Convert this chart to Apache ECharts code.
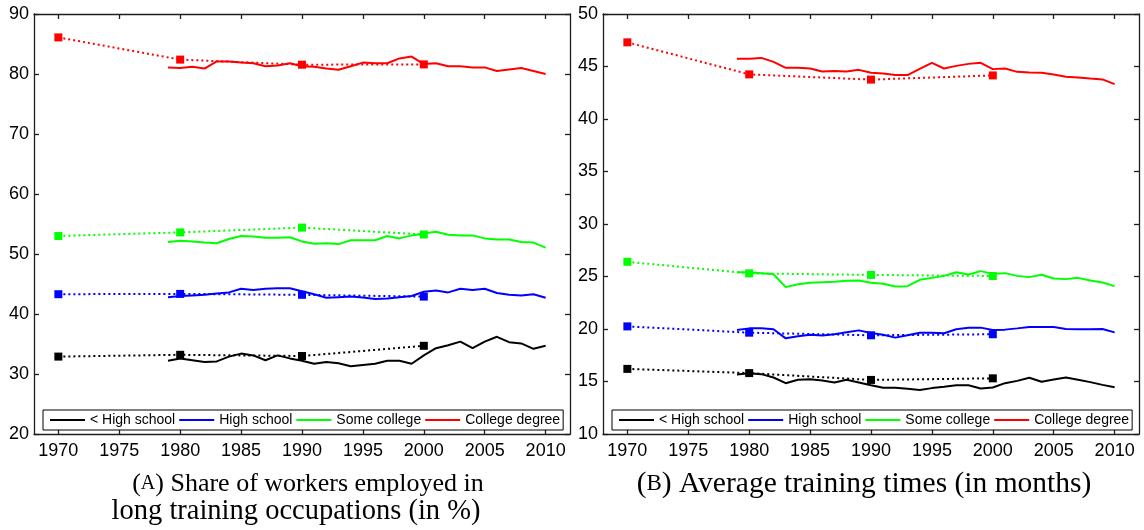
<!DOCTYPE html>
<html>
<head>
<meta charset="utf-8">
<script src="https://cdn.jsdelivr.net/npm/echarts@6/dist/echarts.min.js"></script>
<style>
html,body{margin:0;padding:0;background:#fff;}
#chart{width:1144px;height:530px;}
</style>
</head>
<body>
<div id="chart"></div>
<script>
// ---------- data ----------
const years = [1979,1980,1981,1982,1983,1984,1985,1986,1987,1988,1989,1990,1991,1992,1993,1994,
               1995,1996,1997,1998,1999,2000,2001,2002,2003,2004,2005,2006,2007,2008,2009,2010];
const censusYears = [1970, 1980, 1990, 2000];
const xTicks = [1970, 1975, 1980, 1985, 1990, 1995, 2000, 2005, 2010];
const groupNames = ['< High school', 'High school', 'Some college', 'College degree'];

// Panel A: share of workers employed in long training occupations (%)
const shareLessHS  = [32.2,32.6,32.3,32.0,32.1,32.9,33.4,33.1,32.3,33.1,32.6,32.2,31.7,32.0,31.8,31.3,
                      31.5,31.7,32.2,32.2,31.7,33.1,34.3,34.8,35.4,34.3,35.4,36.2,35.3,35.1,34.2,34.7];
const shareHS      = [42.8,43.0,43.1,43.2,43.4,43.6,44.2,44.0,44.2,44.3,44.3,43.8,43.3,42.7,42.8,42.9,
                      42.75,42.5,42.6,42.8,43.0,43.7,43.9,43.6,44.2,44.0,44.2,43.5,43.2,43.1,43.3,42.7];
const shareSC      = [52.0,52.2,52.1,51.9,51.8,52.5,53.0,52.9,52.7,52.7,52.8,52.1,51.7,51.8,51.65,52.3,
                      52.3,52.3,53.0,52.6,53.1,53.4,53.7,53.2,53.1,53.1,52.6,52.4,52.4,52.0,51.9,51.05];
const shareCol     = [81.1,81.0,81.2,80.9,82.1,82.1,81.9,81.8,81.3,81.4,81.8,81.3,81.2,80.9,80.7,81.3,
                      81.9,81.8,81.8,82.6,82.9,81.65,81.8,81.3,81.3,81.1,81.1,80.5,80.75,81.0,80.5,80.0];
const shareCensusLessHS = [32.9, 33.2, 33.0, 34.7];
const shareCensusHS     = [43.3, 43.35, 43.2, 42.9];
const shareCensusSC     = [53.0, 53.6, 54.4, 53.25];
const shareCensusCol    = [86.1, 82.4, 81.55, 81.6];
const shareYTicks = [20, 90, 10]; // min, max, interval

// Panel B: average training times (months)
const trainLessHS  = [15.66,15.79,15.70,15.38,14.84,15.16,15.22,15.09,14.91,15.16,14.91,14.65,14.40,14.40,14.30,14.18,
                      14.37,14.49,14.65,14.65,14.34,14.43,14.84,15.06,15.35,14.97,15.19,15.38,15.16,14.94,14.68,14.46];
const trainHS      = [19.91,20.06,20.06,19.97,19.11,19.30,19.46,19.37,19.49,19.68,19.87,19.62,19.46,19.18,19.40,19.65,
                      19.65,19.59,19.97,20.13,20.13,19.91,19.94,20.06,20.19,20.19,20.19,20.00,19.97,19.97,20.00,19.68];
const trainSC      = [25.41,25.41,25.32,25.22,23.99,24.27,24.40,24.46,24.49,24.59,24.62,24.40,24.30,24.05,24.08,24.68,
                      24.87,25.06,25.41,25.19,25.51,25.25,25.32,25.06,24.94,25.16,24.81,24.75,24.87,24.62,24.43,24.08];
const trainCol     = [45.73,45.73,45.82,45.44,44.87,44.87,44.81,44.53,44.56,44.53,44.68,44.40,44.34,44.18,44.18,44.78,
                      45.35,44.81,45.06,45.25,45.35,44.75,44.81,44.49,44.43,44.40,44.24,44.02,43.96,43.86,43.77,43.32];
const trainCensusLessHS = [16.2, 15.8, 15.15, 15.3];
const trainCensusHS     = [20.25, 19.65, 19.4, 19.5];
const trainCensusSC     = [26.4, 25.3, 25.15, 25.05];
const trainCensusCol    = [47.3, 44.25, 43.75, 44.15];
const trainYTicks = [10, 50, 5];

const captionA1 = '({sc|A}) Share of workers employed in';
const captionA2 = 'long training occupations (in %)';
const captionB  = '({sc|B}) Average training times (in months)';

// ---------- styling ----------
const colors = ['#000000', '#0000ff', '#00ff00', '#ff0000'];
const frame = {color: '#1e1e1e', width: 1.3};
const sans = 'Liberation Sans, Arial, sans-serif';
const serif = 'Liberation Serif, Times New Roman, serif';

const zip = (xs, ys) => xs.map((x, i) => [x, ys[i]]);

function xAxes(grid) {
  const base = {
    gridIndex: grid, type: 'value', min: 1968, max: 2012,
    axisLine: {show: true, onZero: false, lineStyle: frame},
    axisTick: {show: true, inside: true, length: 5, customValues: xTicks, lineStyle: frame},
    splitLine: {show: false}
  };
  return [
    Object.assign({}, base, {position: 'bottom',
      axisLabel: {show: true, customValues: xTicks, formatter: v => String(v),
                  fontSize: 18, fontFamily: sans, color: '#000', margin: 8}}),
    Object.assign({}, base, {position: 'top', axisLabel: {show: false}})
  ];
}
function yAxes(grid, t) {
  const base = {
    gridIndex: grid, type: 'value', min: t[0], max: t[1], interval: t[2],
    axisLine: {show: true, onZero: false, lineStyle: frame},
    axisTick: {show: true, inside: true, length: 5, lineStyle: frame},
    splitLine: {show: false}
  };
  return [
    Object.assign({}, base, {position: 'left',
      axisLabel: {show: true, formatter: v => String(v), fontSize: 18, fontFamily: sans, color: '#000', margin: 5}}),
    Object.assign({}, base, {position: 'right', axisLabel: {show: false}})
  ];
}

function panelSeries(xi, yi, annual, census) {
  const out = [];
  annual.forEach((vals, k) => {
    out.push({
      name: groupNames[k], type: 'line', xAxisIndex: xi, yAxisIndex: yi,
      data: zip(years, vals), symbol: 'none', showSymbol: false,
      lineStyle: {color: colors[k], width: 2}, itemStyle: {color: colors[k]},
      z: 2, silent: true
    });
  });
  census.forEach((vals, k) => {
    out.push({
      name: groupNames[k] + ' (census)', type: 'line', xAxisIndex: xi, yAxisIndex: yi,
      data: zip(censusYears, vals), symbol: 'rect', symbolSize: 8, showSymbol: true,
      lineStyle: {color: colors[k], width: 2, type: [2, 3]}, itemStyle: {color: colors[k]},
      z: 3, silent: true
    });
  });
  return out;
}

function legend(left) {
  return {
    data: groupNames.map(n => ({name: n, icon: 'rect'})), left: left, top: 410, orient: 'horizontal',
    itemWidth: 35, itemHeight: 2, itemGap: 4,
    padding: [3, 3, 3, 7],
    borderColor: '#000', borderWidth: 1, backgroundColor: '#fff', borderRadius: 0,
    textStyle: {fontSize: 14, fontFamily: sans, color: '#000'},
    selectedMode: false
  };
}

const capStyle = (text, x, y, size) => ({
  type: 'text', x: x, y: y,
  style: {
    text: text, fill: '#000', font: size + 'px ' + serif, textAlign: 'center', textVerticalAlign: 'middle',
    rich: {sc: {fontSize: Math.round(size * 0.78), fontFamily: serif, fill: '#000'}}
  }
});

const option = {
  animation: false,
  backgroundColor: '#fff',
  grid: [
    {left: 34, top: 14, width: 536, height: 420},
    {left: 603, top: 14, width: 536, height: 420}
  ],
  xAxis: [...xAxes(0), ...xAxes(1)],
  yAxis: [...yAxes(0, shareYTicks), ...yAxes(1, trainYTicks)],
  legend: [legend(43), legend(612)],
  series: [
    ...panelSeries(0, 0, [shareLessHS, shareHS, shareSC, shareCol],
                   [shareCensusLessHS, shareCensusHS, shareCensusSC, shareCensusCol]),
    ...panelSeries(2, 2, [trainLessHS, trainHS, trainSC, trainCol],
                   [trainCensusLessHS, trainCensusHS, trainCensusSC, trainCensusCol])
  ],
  graphic: [
    capStyle(captionA1, 308, 484, 26),
    capStyle(captionA2, 296, 512, 28.5),
    capStyle(captionB, 864, 484, 29.5)
  ]
};

const chart = echarts.init(document.getElementById('chart'), null, {renderer: 'canvas'});
chart.setOption(option);
</script>
</body>
</html>
